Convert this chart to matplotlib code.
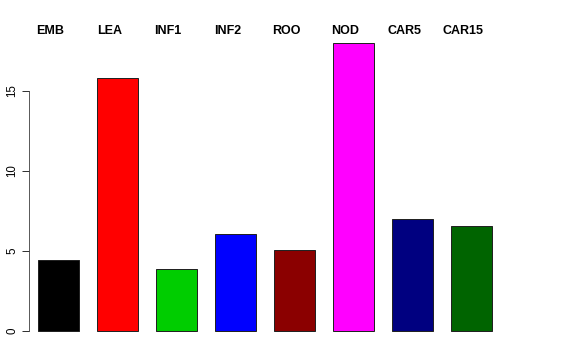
import matplotlib
matplotlib.use("Agg")
import matplotlib.pyplot as plt
import matplotlib.transforms as mtransforms

categories = ["EMB", "LEA", "INF1", "INF2", "ROO", "NOD", "CAR5", "CAR15"]
values = [4.44, 15.82, 3.87, 6.08, 5.07, 18.0, 7.0, 6.56]
colors = ["#000000", "#FF0000", "#00CD00", "#0000FF", "#8B0000", "#FF00FF", "#000080", "#006400"]
yticks = [0, 5, 10, 15]

plt.rcParams['font.family'] = ['Liberation Sans', 'DejaVu Sans']

W, H = 576, 360
fig = plt.figure(figsize=(W / 72, H / 72), dpi=72)
# axes in pixel coordinates
left_px, right_px = 28.5, 501.5
top_px, bottom_px = 31.5, 342.5
ax = fig.add_axes([left_px / W, 1 - bottom_px / H, (right_px - left_px) / W, (bottom_px - top_px) / H])

x = list(range(len(categories)))
ax.bar(x, values, width=0.71, color=colors, edgecolor="#222222", linewidth=1)
ax.set_xlim(-0.508, 7.508)
ax.set_ylim(-0.72, 18.72)

for s in ["top", "right", "bottom"]:
    ax.spines[s].set_visible(False)
ax.spines["left"].set_bounds(0, 15)
ax.spines["left"].set_color("#333333")
ax.set_xticks([])
ax.set_yticks(yticks)
ax.set_yticklabels([str(t) for t in yticks], rotation=90, va="center", fontsize=11.5)
ax.tick_params(axis="y", length=7, width=1, color="#333333", pad=3)

trans = mtransforms.blended_transform_factory(ax.transData, fig.transFigure)
for i, c in enumerate(categories):
    ax.text(i - 0.14, 1 - 31 / H, c, transform=trans, ha="center", va="center",
            fontsize=12.5, fontweight="bold")

fig.savefig("out.png", dpi=72)
